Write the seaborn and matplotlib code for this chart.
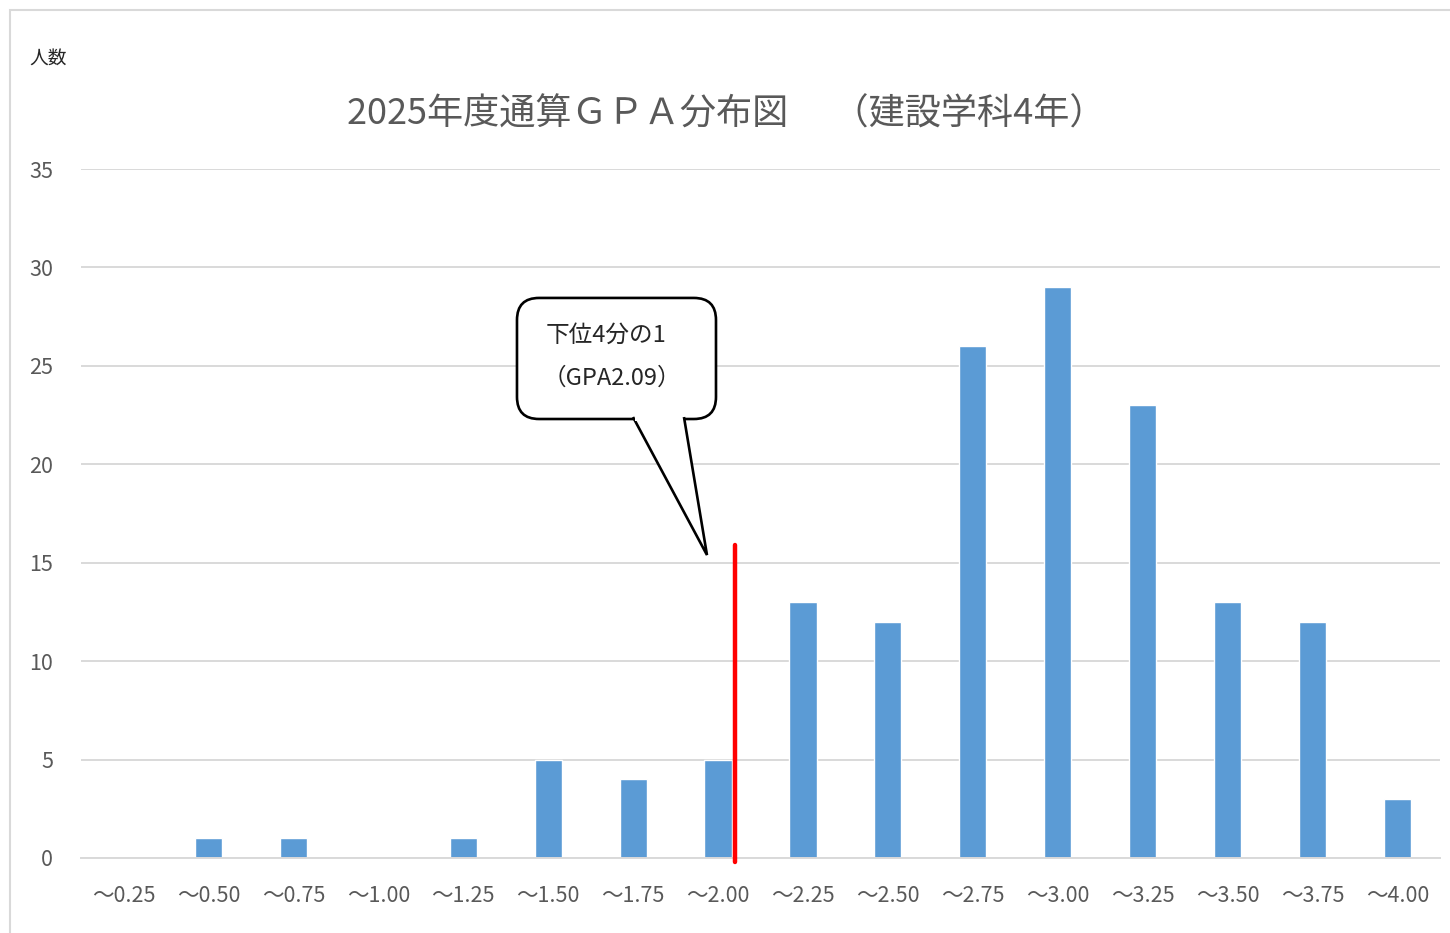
import numpy as np
import pandas as pd
import matplotlib
matplotlib.use("Agg")
import matplotlib.pyplot as plt
from matplotlib.patches import FancyBboxPatch, Polygon, Rectangle
import seaborn as sns

# GPA bins and head counts
categories = ["～0.25", "～0.50", "～0.75", "～1.00", "～1.25", "～1.50", "～1.75", "～2.00",
              "～2.25", "～2.50", "～2.75", "～3.00", "～3.25", "～3.50", "～3.75", "～4.00"]
counts = [0, 1, 1, 0, 1, 5, 4, 5, 13, 12, 26, 29, 23, 13, 12, 3]
y_ticks = [0, 5, 10, 15, 20, 25, 30, 35]

title = "2025年度通算ＧＰＡ分布図　 （建設学科4年）"
y_label = "人数"
callout_lines = ["下位4分の1", "（GPA2.09）"]
quartile_pos = 7.2      # position of the GPA 2.09 marker on the category axis
quartile_top = 15.9

sns.set_style("white")
plt.rcParams["font.family"] = ["Noto Sans CJK JP", "DejaVu Sans"]

TEXT = "#595959"
GRID = "#D9D9D9"
BAR = "#5B9BD5"

df = pd.DataFrame({"bin": categories, "count": counts})

fig = plt.figure(figsize=(14.5, 9.33), dpi=100)
ax = fig.add_axes([81 / 1450, 75 / 933, 1359 / 1450, 689 / 933])

sns.barplot(data=df, x="bin", y="count", color=BAR, width=0.32, saturation=1, ax=ax)

ax.set_xlim(-0.5, len(categories) - 0.5)
ax.set_ylim(0, 35)
ax.set_yticks(y_ticks)
ax.set_xlabel("")
ax.set_ylabel("")
ax.yaxis.grid(True, color=GRID, lw=1.4)
ax.set_axisbelow(True)
for s in ["top", "right", "left"]:
    ax.spines[s].set_visible(False)
ax.spines["bottom"].set_color(GRID)
ax.spines["bottom"].set_linewidth(1.4)
ax.tick_params(axis="both", length=0, labelcolor=TEXT, labelsize=15.5)
ax.tick_params(axis="y", pad=20)
ax.tick_params(axis="x", pad=19.5)

# red marker for lower quartile
ax.plot([quartile_pos, quartile_pos], [-0.2, quartile_top], color="#FF0000", lw=3.2,
        clip_on=False, zorder=5)

# speech bubble callout
aspect = (35 / 689) / (len(categories) / 1359)
box = FancyBboxPatch((4.633, 22.30), 6.976 - 4.633, 28.45 - 22.30,
                     boxstyle="round,pad=0,rounding_size=0.26", mutation_aspect=aspect,
                     facecolor="white", edgecolor="black", lw=1.9, zorder=6, clip_on=False)
ax.add_patch(box)
tail = [(5.999, 22.40), (6.87, 15.39), (6.599, 22.40)]
ax.add_patch(Polygon(tail, closed=False, facecolor="white", edgecolor="black", lw=1.9,
                     zorder=7, clip_on=False, joinstyle="miter"))
ax.add_patch(Polygon([(6.02, 22.5), (6.58, 22.5), (6.58, 22.2), (6.02, 22.2)],
                     facecolor="white", edgecolor="none", zorder=8, clip_on=False))
ax.text(5.68, 26.57, callout_lines[0], ha="center", va="center", fontsize=17,
        color="#262626", zorder=9)
ax.text(5.75, 24.38, callout_lines[1], ha="center", va="center", fontsize=17,
        color="#262626", zorder=9)

fig.text(726 / 1450, 1 - 115 / 933, title, ha="center", va="center", fontsize=26, color=TEXT)
fig.text(48 / 1450, 1 - 58 / 933, y_label, ha="center", va="center", fontsize=13.5, color="#262626")

# chart frame
fig.patches.append(Rectangle((10 / 1450, -0.01), 1.02, 1 - 10 / 933 + 0.01,
                             transform=fig.transFigure, fill=False, edgecolor=GRID, lw=1.5))

fig.savefig("out.png", dpi=100)
